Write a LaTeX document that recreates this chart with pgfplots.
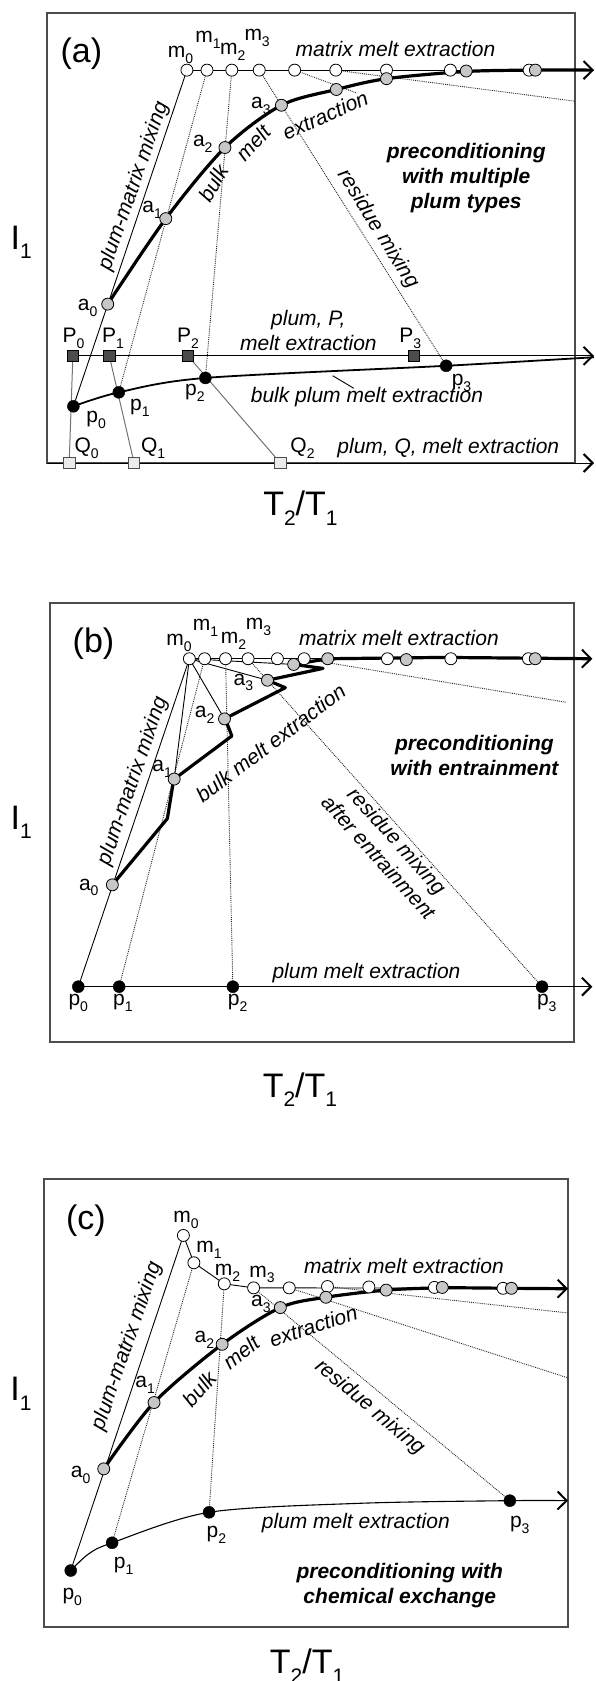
\documentclass[border=0pt]{standalone}
\usepackage{fontspec}
\setmainfont{Liberation Sans}
\usepackage{pgfplots}
\pgfplotsset{compat=1.18}
\usetikzlibrary{arrows.meta}
\newcommand\lab{\fontsize{21}{25}\selectfont}
\newcommand\labbig{\fontsize{34}{38}\selectfont}
\newcommand\sub[1]{\raisebox{-0.28em}{\fontsize{14}{14}\selectfont #1}}
\newcommand\bsub[1]{\raisebox{-0.28em}{\fontsize{21}{21}\selectfont #1}}
\tikzset{arr/.style={-{Straight Barb[length=9pt,width=18pt,line width=2pt]}}}
\pgfplotsset{
 panel/.style={scale only axis, anchor=south west, xmin=0,xmax=100,ymin=0,ymax=100,
   xtick=\empty, ytick=\empty, axis line style={draw=black!70, line width=1.2pt}, clip=false},
 wc/.style={only marks, mark=*, mark size=6pt, mark options={fill=white, draw=black, line width=0.8pt}},
 gc/.style={only marks, mark=*, mark size=6pt, mark options={fill=black!22, draw=black, line width=0.8pt}},
 bc/.style={only marks, mark=*, mark size=6pt, mark options={fill=black, draw=black}},
 dsq/.style={only marks, mark=square*, mark size=5.7pt, mark options={fill=black!70, draw=black, line width=0.7pt}},
 lsq/.style={only marks, mark=square*, mark size=5.7pt, mark options={fill=black!8, draw=black!70, line width=0.7pt}},
 tl/.style={no marks, black, line width=0.9pt},
 thk/.style={no marks, black, line width=3.2pt},
 dl/.style={no marks, black!85, line width=0.9pt, densely dotted},
 gl/.style={no marks, black!55, line width=1pt},
}
\begin{document}
\begin{tikzpicture}[x=1pt,y=1pt]
\useasboundingbox (0,0) rectangle (595,1681);
% ================= (a) =================
\begin{axis}[panel, at={(47pt,1218pt)}, width=528pt, height=450pt]
\addplot[tl] coordinates {(5.0,12.6) (26.5,87.3)};
\addplot[tl] coordinates {(26.5,87.3) (103.6,87.3)};
\addplot[dl] coordinates {(30.3,87.3) (13.6,15.7)};
\addplot[dl] coordinates {(35.0,87.3) (30.0,18.9)};
\addplot[dl] coordinates {(40.2,87.3) (75.6,21.6)};
\addplot[dl] coordinates {(46.9,87.3) (58.7,82.2)};
\addplot[dl] coordinates {(54.7,87.3) (100,80.4)};
\addplot[gl] coordinates {(4.9,23.8) (4.2,0)};
\addplot[gl] coordinates {(11.8,23.8) (16.5,0)};
\addplot[gl] coordinates {(26.7,23.8) (44.2,0)};
\addplot[tl, arr] coordinates {(4.9,23.8) (103.6,23.8)};
\addplot[tl, arr] coordinates {(0,0) (103.6,0)};
\addplot[no marks, black, line width=1.8pt, smooth] coordinates {(5.0,12.6) (13.6,15.7) (30.0,18.9) (75.6,21.6) (103.6,23.5)};
\addplot[tl] coordinates {(54.1,19.4) (58.1,16.6)};
\addplot[thk, smooth, arr] coordinates {(11.5,35.3) (22.5,54.3) (33.7,70.1) (44.4,79.5) (54.8,83.0) (64.3,85.4) (79.4,87.0) (92.5,87.3) (103.6,87.3)};
\addplot[wc] coordinates {(26.5,87.3) (30.3,87.3) (35.0,87.3) (40.2,87.3) (46.9,87.3) (54.7,87.3) (64.3,87.3) (76.4,87.3) (91.3,87.3)};
\addplot[gc] coordinates {(11.5,35.3) (22.5,54.3) (33.7,70.1) (44.4,79.5) (54.8,83.0) (64.3,85.4) (79.4,87.1) (92.5,87.3)};
\addplot[bc] coordinates {(5.0,12.6) (13.6,15.7) (30.0,18.9) (75.6,21.6)};
\addplot[dsq] coordinates {(4.9,23.8) (11.8,23.8) (26.7,23.8) (69.5,23.8)};
\addplot[lsq] coordinates {(4.2,0) (16.5,0) (44.2,0)};
\node[font=\labbig] at (axis cs:6.5,91.0) {(a)};
\node[font=\lab] at (axis cs:25.3,90.7) {m\sub0};
\node[font=\lab] at (axis cs:30.5,94.0) {m\sub1};
\node[font=\lab] at (axis cs:35.2,91.4) {m\sub2};
\node[font=\lab] at (axis cs:39.8,94.4) {m\sub3};
\node[font=\lab\itshape] at (axis cs:66,91.9) {matrix melt extraction};
\node[font=\lab] at (axis cs:40.5,79.3) {a\sub3};
\node[font=\lab] at (axis cs:29.5,70.9) {a\sub2};
\node[font=\lab] at (axis cs:19.9,56.3) {a\sub1};
\node[font=\lab] at (axis cs:7.7,34.5) {a\sub0};
\node[font=\lab\itshape, rotate=71] at (axis cs:16.5,61.5) {plum-matrix mixing};
\node[font=\lab\itshape, rotate=60] at (axis cs:31.5,62.2) {bulk};
\node[font=\lab\itshape, rotate=48] at (axis cs:39.1,71.1) {melt};
\node[font=\lab\itshape, rotate=24] at (axis cs:52.7,77.3) {extraction};
\node[font=\lab\bfseries\itshape, align=center] at (axis cs:79.4,63.3) {preconditioning\\with multiple\\plum types};
\node[font=\lab\itshape, rotate=-58] at (axis cs:62.7,51.9) {residue mixing};
\node[font=\lab\itshape, align=center] at (axis cs:49.5,29.4) {plum, P,\\melt extraction};
\node[font=\lab] at (axis cs:5.0,27.7) {P\sub0};
\node[font=\lab] at (axis cs:12.5,27.7) {P\sub1};
\node[font=\lab] at (axis cs:26.7,27.7) {P\sub2};
\node[font=\lab] at (axis cs:68.8,27.7) {P\sub3};
\node[font=\lab] at (axis cs:9.3,9.5) {p\sub0};
\node[font=\lab] at (axis cs:17.6,12.2) {p\sub1};
\node[font=\lab] at (axis cs:28.0,15.5) {p\sub2};
\node[font=\lab] at (axis cs:78.5,17.7) {p\sub3};
\node[font=\lab\itshape] at (axis cs:60.6,14.6) {bulk plum melt extraction};
\node[font=\lab] at (axis cs:7.5,3.3) {Q\sub0};
\node[font=\lab] at (axis cs:20.1,3.3) {Q\sub1};
\node[font=\lab] at (axis cs:48.4,3.3) {Q\sub2};
\node[font=\lab\itshape] at (axis cs:76.0,3.3) {plum, Q, melt extraction};
\node[font=\labbig] at (axis cs:-4.9,49) {I\bsub1};
\node[font=\labbig] at (axis cs:48,-10) {T\bsub2/T\bsub1};
\end{axis}
% ================= (b) =================
\begin{axis}[panel, at={(50pt,639pt)}, width=524pt, height=439pt]
\addplot[tl] coordinates {(5.4,12.6) (26.6,87.3)};
\addplot[tl] coordinates {(26.6,87.3) (23.7,59.9)};
\addplot[tl] coordinates {(26.6,87.3) (33.3,73.6)};
\addplot[tl] coordinates {(26.6,87.3) (41.5,82.4)};
\addplot[tl] coordinates {(26.6,87.3) (46.5,86.0)};
\addplot[tl] coordinates {(26.6,87.3) (53.0,87.3)};
\addplot[dl] coordinates {(29.5,87.3) (13.2,12.6)};
\addplot[dl] coordinates {(33.5,87.3) (34.9,12.6)};
\addplot[dl] coordinates {(37.8,87.3) (93.9,12.6)};
\addplot[dl] coordinates {(48.5,87.3) (98.4,77.4)};
\addplot[tl, arr] coordinates {(5.4,12.6) (103.5,12.6)};
\addplot[thk, line join=round, arr] coordinates {(11.9,35.8) (22.4,50.9) (23.5,59.0) (23.7,59.9) (34.7,69.7) (34.0,71.9) (33.3,73.6) (44.9,80.7) (41.5,82.4) (52.1,85.1) (46.5,86.0) (53.0,87.3) (75,87.6) (103.5,87.3)};
\addplot[wc] coordinates {(26.6,87.3) (29.5,87.3) (33.5,87.3) (37.8,87.3) (43.4,87.3) (48.5,87.3) (64.4,87.3) (76.5,87.3) (91.3,87.3)};
\addplot[gc] coordinates {(11.9,35.8) (23.7,59.9) (33.3,73.6) (41.5,82.4) (46.5,86.0) (53.0,87.3) (68.0,87.1) (92.6,87.3)};
\addplot[bc] coordinates {(5.4,12.6) (13.2,12.6) (34.9,12.6) (93.9,12.6)};
\node[font=\labbig] at (axis cs:8.3,90.8) {(b)};
\node[font=\lab] at (axis cs:24.6,91.0) {m\sub0};
\node[font=\lab] at (axis cs:29.7,94.3) {m\sub1};
\node[font=\lab] at (axis cs:35.0,91.3) {m\sub2};
\node[font=\lab] at (axis cs:39.8,94.5) {m\sub3};
\node[font=\lab\itshape] at (axis cs:66.6,92.0) {matrix melt extraction};
\node[font=\lab] at (axis cs:36.9,81.9) {a\sub3};
\node[font=\lab] at (axis cs:29.5,74.5) {a\sub2};
\node[font=\lab] at (axis cs:21.4,62.3) {a\sub1};
\node[font=\lab] at (axis cs:7.4,35.2) {a\sub0};
\node[font=\lab\itshape, rotate=71] at (axis cs:15.9,59.4) {plum-matrix mixing};
\node[font=\lab\itshape, rotate=37] at (axis cs:42.1,68.1) {bulk melt extraction};
\node[font=\lab\bfseries\itshape, align=center] at (axis cs:81.0,65.3) {preconditioning\\with entrainment};
\node[font=\lab\itshape, rotate=-48, align=center] at (axis cs:64.6,44.0) {residue mixing\\after entrainment};
\node[font=\lab\itshape] at (axis cs:60.4,15.8) {plum melt extraction};
\node[font=\lab] at (axis cs:5.4,8.9) {p\sub0};
\node[font=\lab] at (axis cs:13.9,8.9) {p\sub1};
\node[font=\lab] at (axis cs:35.8,8.9) {p\sub2};
\node[font=\lab] at (axis cs:94.8,8.9) {p\sub3};
\node[font=\labbig] at (axis cs:-5.5,50) {I\bsub1};
\node[font=\labbig] at (axis cs:47.7,-10.9) {T\bsub2/T\bsub1};
\end{axis}
% ================= (c) =================
\begin{axis}[panel, at={(44pt,54pt)}, width=524pt, height=448pt]
\addplot[tl] coordinates {(5.1,12.6) (26.6,87.4)};
\addplot[tl] coordinates {(26.6,87.4) (28.6,81.3) (34.4,76.6) (40.0,75.7) (100,75.6)};
\addplot[dl] coordinates {(28.6,81.3) (13.0,18.8)};
\addplot[dl] coordinates {(34.4,76.6) (31.5,25.6)};
\addplot[dl] coordinates {(40.0,75.7) (88.9,28.2)};
\addplot[dl] coordinates {(46.8,75.7) (100,55.6)};
\addplot[dl] coordinates {(54.1,76.0) (100,70.1)};
\addplot[no marks, black, line width=1.1pt, smooth, arr] coordinates {(5.1,12.6) (8.5,16.3) (13.0,18.8) (31.5,25.6) (60,27.6) (88.9,28.2) (100,28.2)};
\addplot[thk, smooth, arr] coordinates {(11.4,35.3) (21.0,50.1) (34.0,63.1) (45.1,71.3) (53.8,73.6) (65.3,75.2) (76.0,75.7) (89.2,75.6) (100,75.5)};
\addplot[wc] coordinates {(26.6,87.4) (28.6,81.3) (34.4,76.6) (40.0,75.7) (46.8,75.7) (54.1,76.0) (62.0,75.9) (74.5,75.8) (87.6,75.6)};
\addplot[gc] coordinates {(11.4,35.3) (21.0,50.1) (34.0,63.1) (45.1,71.3) (53.8,73.6) (65.3,75.2) (76.0,75.8) (89.2,75.6)};
\addplot[bc] coordinates {(5.1,12.6) (13.0,18.8) (31.5,25.6) (88.9,28.2)};
\node[font=\labbig] at (axis cs:8.0,90.7) {(c)};
\node[font=\lab] at (axis cs:27.1,90.9) {m\sub0};
\node[font=\lab] at (axis cs:31.5,84.1) {m\sub1};
\node[font=\lab] at (axis cs:35.0,79.0) {m\sub2};
\node[font=\lab] at (axis cs:41.6,78.7) {m\sub3};
\node[font=\lab\itshape] at (axis cs:68.7,80.6) {matrix melt extraction};
\node[font=\lab] at (axis cs:41.4,72.2) {a\sub3};
\node[font=\lab] at (axis cs:30.6,64.0) {a\sub2};
\node[font=\lab] at (axis cs:19.3,54.0) {a\sub1};
\node[font=\lab] at (axis cs:7.0,34.0) {a\sub0};
\node[font=\lab\itshape, rotate=71] at (axis cs:15.9,62.7) {plum-matrix mixing};
\node[font=\lab\itshape, rotate=50] at (axis cs:29.7,53.1) {bulk};
\node[font=\lab\itshape, rotate=38] at (axis cs:37.6,61.3) {melt};
\node[font=\lab\itshape, rotate=18] at (axis cs:51.4,67.2) {extraction};
\node[font=\lab\itshape, rotate=-40] at (axis cs:62.2,49.0) {residue mixing};
\node[font=\lab\itshape] at (axis cs:59.5,23.2) {plum melt extraction};
\node[font=\lab] at (axis cs:5.4,6.8) {p\sub0};
\node[font=\lab] at (axis cs:15.2,13.6) {p\sub1};
\node[font=\lab] at (axis cs:32.9,20.5) {p\sub2};
\node[font=\lab] at (axis cs:90.8,22.7) {p\sub3};
\node[font=\lab\bfseries\itshape, align=center] at (axis cs:67.9,9.2) {preconditioning with\\chemical exchange};
\node[font=\labbig] at (axis cs:-4.4,52) {I\bsub1};
\node[font=\labbig] at (axis cs:50.2,-8.8) {T\bsub2/T\bsub1};
\end{axis}
\end{tikzpicture}
\end{document}
